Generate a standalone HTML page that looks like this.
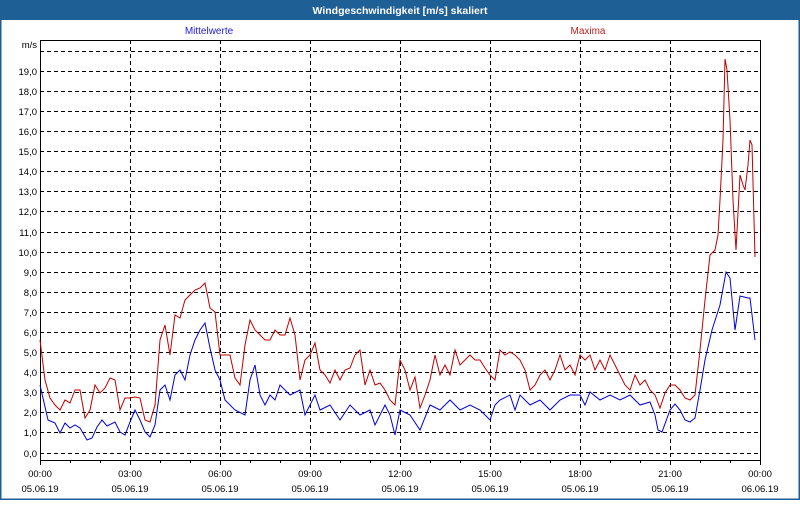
<!DOCTYPE html>
<html><head><meta charset="utf-8"><style>
html,body{margin:0;padding:0;background:#fff}
body{width:800px;height:500px;overflow:hidden;font-family:"Liberation Sans",sans-serif}
</style></head><body>
<svg width="800" height="500" xmlns="http://www.w3.org/2000/svg" font-family="Liberation Sans, sans-serif" font-size="10">
<rect x="0" y="0" width="800" height="500" fill="#fff"/>
<rect x="0" y="0" width="800" height="20" fill="#1e5f96"/>
<rect x="0.5" y="0.5" width="799" height="499" fill="none" stroke="#1e5f96" stroke-width="2"/>
<text x="400" y="14" text-anchor="middle" fill="#fff" font-weight="bold" font-size="10.5">Windgeschwindigkeit [m/s] skaliert</text>
<text x="209" y="34" text-anchor="middle" fill="#2020e0">Mittelwerte</text>
<text x="588" y="34" text-anchor="middle" fill="#c02020">Maxima</text>
<text x="37" y="48" text-anchor="end" fill="#000" font-size="9.5">m/s</text>
<g stroke="#000" stroke-width="1" stroke-dasharray="4,3" fill="none">
<line x1="40" y1="51.5" x2="760" y2="51.5"/><line x1="40" y1="71.5" x2="760" y2="71.5"/><line x1="40" y1="91.5" x2="760" y2="91.5"/><line x1="40" y1="111.5" x2="760" y2="111.5"/><line x1="40" y1="131.5" x2="760" y2="131.5"/><line x1="40" y1="151.5" x2="760" y2="151.5"/><line x1="40" y1="171.5" x2="760" y2="171.5"/><line x1="40" y1="191.5" x2="760" y2="191.5"/><line x1="40" y1="211.5" x2="760" y2="211.5"/><line x1="40" y1="232.5" x2="760" y2="232.5"/><line x1="40" y1="252.5" x2="760" y2="252.5"/><line x1="40" y1="272.5" x2="760" y2="272.5"/><line x1="40" y1="292.5" x2="760" y2="292.5"/><line x1="40" y1="312.5" x2="760" y2="312.5"/><line x1="40" y1="332.5" x2="760" y2="332.5"/><line x1="40" y1="352.5" x2="760" y2="352.5"/><line x1="40" y1="372.5" x2="760" y2="372.5"/><line x1="40" y1="392.5" x2="760" y2="392.5"/><line x1="40" y1="412.5" x2="760" y2="412.5"/><line x1="40" y1="432.5" x2="760" y2="432.5"/><line x1="40" y1="453.5" x2="760" y2="453.5"/>
<line x1="130.5" y1="40" x2="130.5" y2="460"/><line x1="220.5" y1="40" x2="220.5" y2="460"/><line x1="310.5" y1="40" x2="310.5" y2="460"/><line x1="400.5" y1="40" x2="400.5" y2="460"/><line x1="490.5" y1="40" x2="490.5" y2="460"/><line x1="580.5" y1="40" x2="580.5" y2="460"/><line x1="670.5" y1="40" x2="670.5" y2="460"/>
</g>
<rect x="40.5" y="40.5" width="720" height="420" fill="none" stroke="#000"/>
<g stroke="#000">
<line x1="40.5" y1="460" x2="40.5" y2="465"/><line x1="70.5" y1="460" x2="70.5" y2="463"/><line x1="100.5" y1="460" x2="100.5" y2="463"/><line x1="130.5" y1="460" x2="130.5" y2="465"/><line x1="160.5" y1="460" x2="160.5" y2="463"/><line x1="190.5" y1="460" x2="190.5" y2="463"/><line x1="220.5" y1="460" x2="220.5" y2="465"/><line x1="250.5" y1="460" x2="250.5" y2="463"/><line x1="280.5" y1="460" x2="280.5" y2="463"/><line x1="310.5" y1="460" x2="310.5" y2="465"/><line x1="340.5" y1="460" x2="340.5" y2="463"/><line x1="370.5" y1="460" x2="370.5" y2="463"/><line x1="400.5" y1="460" x2="400.5" y2="465"/><line x1="430.5" y1="460" x2="430.5" y2="463"/><line x1="460.5" y1="460" x2="460.5" y2="463"/><line x1="490.5" y1="460" x2="490.5" y2="465"/><line x1="520.5" y1="460" x2="520.5" y2="463"/><line x1="550.5" y1="460" x2="550.5" y2="463"/><line x1="580.5" y1="460" x2="580.5" y2="465"/><line x1="610.5" y1="460" x2="610.5" y2="463"/><line x1="640.5" y1="460" x2="640.5" y2="463"/><line x1="670.5" y1="460" x2="670.5" y2="465"/><line x1="700.5" y1="460" x2="700.5" y2="463"/><line x1="730.5" y1="460" x2="730.5" y2="463"/><line x1="760.5" y1="460" x2="760.5" y2="465"/>
</g>
<g text-anchor="end" fill="#000" font-size="9.5">
<text x="37" y="75">19,0</text><text x="37" y="95">18,0</text><text x="37" y="115">17,0</text><text x="37" y="135">16,0</text><text x="37" y="155">15,0</text><text x="37" y="175">14,0</text><text x="37" y="195">13,0</text><text x="37" y="215">12,0</text><text x="37" y="236">11,0</text><text x="37" y="256">10,0</text><text x="37" y="276">9,0</text><text x="37" y="296">8,0</text><text x="37" y="316">7,0</text><text x="37" y="336">6,0</text><text x="37" y="356">5,0</text><text x="37" y="376">4,0</text><text x="37" y="396">3,0</text><text x="37" y="416">2,0</text><text x="37" y="436">1,0</text><text x="37" y="457">0,0</text>
</g>
<g text-anchor="middle" fill="#000" font-size="9.5">
<text x="40" y="477">00:00</text><text x="40" y="492">05.06.19</text>
<text x="130" y="477">03:00</text><text x="130" y="492">05.06.19</text>
<text x="220" y="477">06:00</text><text x="220" y="492">05.06.19</text>
<text x="310" y="477">09:00</text><text x="310" y="492">05.06.19</text>
<text x="400" y="477">12:00</text><text x="400" y="492">05.06.19</text>
<text x="490" y="477">15:00</text><text x="490" y="492">05.06.19</text>
<text x="580" y="477">18:00</text><text x="580" y="492">05.06.19</text>
<text x="670" y="477">21:00</text><text x="670" y="492">05.06.19</text>
<text x="760" y="477">00:00</text><text x="760" y="492">06.06.19</text>
</g>
<polyline fill="none" stroke="#c00000" stroke-width="1" points="40,340 45,380 50,398 55,405 60,410 65,400 70,403 75,390 80,390 85,418 90,410 95,385 100,393 105,388 110,378 115,380 120,410 125,398 130,398 135,397 140,398 145,420 150,422 155,405 160,340 165,325 170,355 175,315 180,318 185,300 190,295 195,290 200,288 205,283 210,308 215,312 220,355 230,355 235,378 240,385 245,345 250,320 255,330 260,335 265,340 270,340 275,330 280,335 285,335 290,318 295,335 300,380 305,360 310,355 315,343 320,370 325,375 330,383 335,370 340,380 345,370 350,368 355,355 360,350 365,385 370,370 375,385 380,383 385,390 390,400 395,405 400,360 405,370 410,390 415,377 420,408 425,395 430,380 435,355 440,375 445,365 450,375 455,350 460,365 465,360 470,355 475,360 480,360 485,368 490,375 495,380 500,350 505,355 510,352 515,355 520,360 525,370 530,390 535,385 540,375 545,370 550,380 555,370 560,355 565,370 570,365 575,375 580,355 585,360 590,355 595,370 600,360 605,370 610,355 615,365 620,375 625,385 630,390 635,375 640,385 645,380 650,390 655,395 660,408 665,393 670,385 675,385 680,390 685,398 690,400 695,395 700,350 705,300 710,255 715,250 718,235 720,200 723,140 725,59 727,70 730,120 733,200 736,250 740,175 743,185 745,190 748,165 750,140 752,145 755,257"/>
<polyline fill="none" stroke="#0000e0" stroke-width="1" points="40,385 48,420 55,423 60,433 65,423 70,428 75,425 80,428 87,440 92,438 97,427 102,420 107,426 115,422 120,432 125,435 130,422 135,410 140,420 145,432 150,437 155,425 160,390 165,385 170,400 175,375 180,370 185,380 190,355 195,340 200,330 205,323 210,348 215,370 220,380 225,400 235,410 245,415 250,380 255,365 260,395 265,405 270,395 275,400 280,385 290,395 300,390 305,415 315,395 320,410 330,405 340,420 350,405 360,415 370,410 375,425 385,405 390,415 395,435 400,410 410,415 420,430 430,405 440,410 450,400 460,410 470,405 480,410 490,420 495,405 500,400 510,395 515,410 520,395 530,405 540,400 550,410 560,400 570,395 580,395 585,405 590,392 600,400 610,395 620,400 630,395 640,405 650,402 655,415 658,430 662,432 670,410 675,404 680,410 685,420 690,422 695,418 700,390 705,360 712,330 720,305 726,272 730,278 735,330 740,296 748,298 750,298 755,340"/>
</svg>
</body></html>
